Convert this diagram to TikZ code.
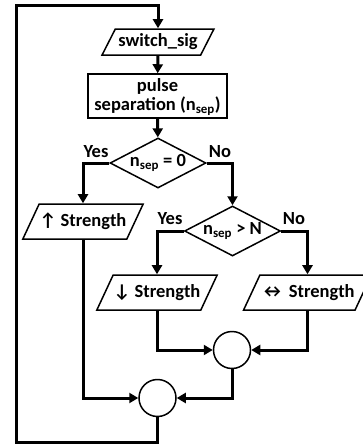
\documentclass[tikz,border=0pt]{standalone}
\usepackage{fontspec}
\setmainfont{Carlito}
\usetikzlibrary{shapes.geometric,arrows.meta}

\begin{document}
\begin{tikzpicture}[x=1pt, y=-1pt,
    every node/.style={font=\fontsize{18.5}{22}\selectfont\bfseries},
    io/.style={draw, line width=1.5pt, trapezium, trapezium left angle=65,
        trapezium right angle=115, text height=13, text depth=4,
        inner xsep=0.5, inner ysep=9},
    process/.style={draw, line width=1.5pt, rectangle, align=center,
        minimum width=139, minimum height=44, inner sep=1pt},
    decision/.style={draw, line width=1.5pt, diamond, aspect=2,
        minimum width=96, minimum height=50, inner sep=0pt},
    junction/.style={draw, line width=1.5pt, circle, minimum size=37, inner sep=0pt},
    wire/.style={line width=3pt},
    conn/.style={wire, -{Triangle[length=9pt, width=10pt]}}]
    \useasboundingbox (0,0) rectangle (363,447);

    % Nodes
    \node [io, trapezium left angle=63, trapezium right angle=117,
        inner xsep=3, inner ysep=4.5] (sig) at (158,42) {switch\_sig};
    \node [process, text depth=2pt] (sep) at (157.5,96) {pulse\\[-3pt]separation (n\textsubscript{sep})};
    \node [decision] (d1) at (158,163) {n\textsubscript{sep} = 0};
    \node [decision] (d2) at (232.5,231) {n\textsubscript{sep} > N};
    \node [io] (up) at (83,221.5) {↑ Strength};
    \node [io] (down) at (157,292.5) {↓ Strength};
    \node [io] (same) at (307.5,292.5) {↔ Strength};
    \node [junction] (c1) at (232,350) {};
    \node [junction] (c2) at (157.5,398) {};

    % Labels
    \node (y1) at (96,152) {Yes};
    \node (n1) at (220,152) {No};
    \node (y2) at (170,219) {Yes};
    \node (n2) at (294,219) {No};

    % Loop back
    \coordinate (lb) at (16,442);
    \coordinate (lt) at (16,5);

    % Connectors
    \draw [conn] (sig) -- (sep);
    \draw [conn] (sep) -- (d1);
    \draw [conn] (d1.west) -| (up.north);
    \draw [conn] (d1.east) -| (d2.north);
    \draw [conn] (d2.west) -| (down.north);
    \draw [conn] (d2.east) -| (same.north);
    \draw [conn] (down.south) |- (c1.west);
    \draw [conn] (same.south) |- (c1.east);
    \draw [conn] (up.south) |- (c2.west);
    \draw [conn] (c1.south) |- (c2.east);
    \draw [conn] (c2.south) |- (lb) -- (lt) -| (sig.north);
\end{tikzpicture}
\end{document}
